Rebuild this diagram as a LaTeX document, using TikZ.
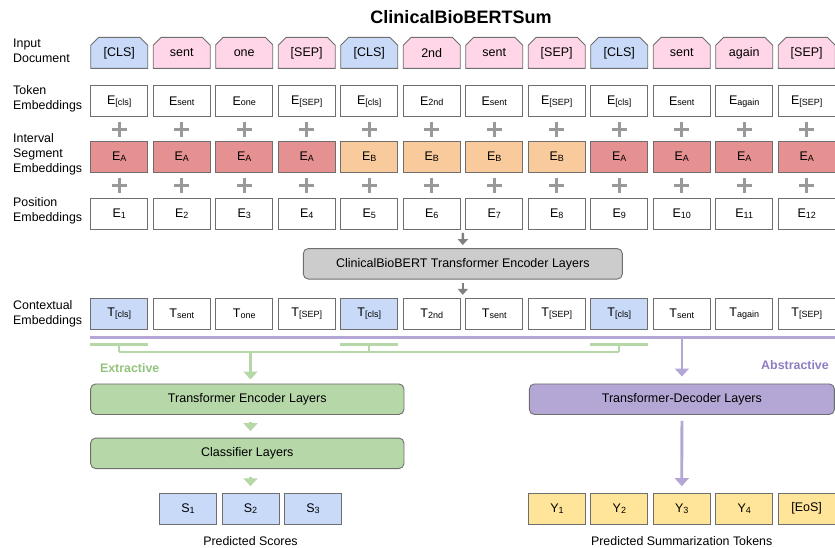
\documentclass[tikz,border=0pt]{standalone}
\usepackage{fontspec}
\setmainfont{Liberation Sans}
\usepackage{tikz}
\usetikzlibrary{arrows.meta,calc,shapes.misc}
\definecolor{BlueCls}{RGB}{201,218,248}
\definecolor{PinkTok}{RGB}{255,214,232}
\definecolor{RedSegA}{RGB}{230,145,145}
\definecolor{OrangeSegB}{RGB}{249,203,156}
\definecolor{GreenExt}{RGB}{182,215,168}
\definecolor{GreenExtText}{RGB}{147,196,125}
\definecolor{PurpleAbs}{RGB}{180,167,214}
\definecolor{PurpleAbsText}{RGB}{142,124,195}
\definecolor{YellowOut}{RGB}{255,229,153}
\definecolor{GrayBert}{RGB}{204,204,204}
\definecolor{GrayPlus}{RGB}{153,153,153}
\definecolor{GrayArrow}{RGB}{128,128,128}
\definecolor{BorderGray}{RGB}{110,110,110}
\newcommand{\tsub}[1]{\raisebox{-0.8pt}{\fontsize{9}{9}\selectfont #1}}

\begin{document}
\begin{tikzpicture}[x=1pt,y=-1pt,
  box/.style={draw=BorderGray,line width=0.9pt,minimum width=57pt,minimum height=31pt,
    inner sep=0pt,font=\fontsize{12.5}{14}\selectfont},
  tagbox/.style={box,chamfered rectangle,chamfered rectangle corners={north west,north east},
    chamfered rectangle xsep=4pt,chamfered rectangle ysep=4pt},
  layerbox/.style={draw=BorderGray,line width=0.9pt,rounded corners=5pt,minimum height=30.5pt,
    inner sep=0pt,font=\fontsize{12.5}{14}\selectfont},
  rowlabel/.style={anchor=west,align=left,inner sep=0pt,font=\fontsize{12.4}{15}\selectfont},
  caption/.style={inner sep=0pt,font=\fontsize{12.4}{15}\selectfont},
  plus/.style={GrayPlus,line width=2.6pt},
  grayarr/.style={-{Triangle[width=10pt,length=6pt]},GrayArrow,line width=2.4pt},
  greenline/.style={GreenExt,line width=2.3pt},
  greenarr/.style={greenline,-{Triangle[width=14pt,length=8pt]}},
  purpleline/.style={PurpleAbs,line width=2.8pt},
  purplearr/.style={purpleline,-{Triangle[width=14pt,length=8pt]}}]
  \useasboundingbox (0,0) rectangle (835,547);

  \node[font=\bfseries\fontsize{18}{20}\selectfont] (title) at (461,17) {ClinicalBioBERTSum};

  \node[rowlabel] (lblin) at (13,50.5) {Input\\Document};
  \node[rowlabel] (lbltok) at (13,99.2) {Token\\Embeddings};
  \node[rowlabel] (lblseg) at (13,154.7) {Interval\\Segment\\Embeddings};
  \node[rowlabel] (lblpos) at (13,210.5) {Position\\Embeddings};
  \node[rowlabel] (lblctx) at (13,314.2) {Contextual\\Embeddings};

  \foreach \tok/\sfx/\cin/\cout/\seg/\cseg [count=\i] in {
      {[CLS]}/{[cls]}/BlueCls/BlueCls/A/RedSegA,
      sent/sent/PinkTok/white/A/RedSegA,
      one/one/PinkTok/white/A/RedSegA,
      {[SEP]}/{[SEP]}/PinkTok/white/A/RedSegA,
      {[CLS]}/{[cls]}/BlueCls/BlueCls/B/OrangeSegB,
      2nd/2nd/PinkTok/white/B/OrangeSegB,
      sent/sent/PinkTok/white/B/OrangeSegB,
      {[SEP]}/{[SEP]}/PinkTok/white/B/OrangeSegB,
      {[CLS]}/{[cls]}/BlueCls/BlueCls/A/RedSegA,
      sent/sent/PinkTok/white/A/RedSegA,
      again/again/PinkTok/white/A/RedSegA,
      {[SEP]}/{[SEP]}/PinkTok/white/A/RedSegA} {
    \pgfmathsetmacro\cx{119.2+62.5*(\i-1)}
    \node[tagbox,fill=\cin] (in\i) at (\cx,52.8) {\tok};
    \node[box] (tok\i) at (\cx,101.3) {E\tsub{\sfx}};
    \node[box,fill=\cseg] (seg\i) at (\cx,157) {E\tsub{\seg}};
    \node[box] (pos\i) at (\cx,213.8) {E\tsub{\i}};
    \node[box,fill=\cout] (ctx\i) at (\cx,313.8) {T\tsub{\sfx}};
    \draw[plus] (\cx-7.5,129.4) -- (\cx+7.5,129.4) (\cx,121.9) -- (\cx,136.9);
    \draw[plus] (\cx-7.5,185.3) -- (\cx+7.5,185.3) (\cx,177.8) -- (\cx,192.8);
  }

  \node[layerbox,fill=GrayBert,minimum width=319pt] (bert) at (462.8,263.8)
    {ClinicalBioBERT Transformer Encoder Layers};
  \draw[grayarr] ($(pos6.south east)!0.5!(pos7.south west)$) ++(0,3) -- ([yshift=3pt]bert.north);
  \draw[grayarr] ([yshift=-3pt]bert.south) -- ([yshift=3pt]bert.south |- ctx6.north);

  \coordinate (abus) at ([yshift=-7.4pt]ctx1.south west);
  \draw[purpleline] (abus) -- (abus -| ctx12.south east);
  \foreach \i in {1,5,9}
    \draw[greenline] ([yshift=-14.7pt]ctx\i.south west) -- ([yshift=-14.7pt]ctx\i.south east)
      ([yshift=-14.7pt]ctx\i.south) -- ([yshift=-22.4pt]ctx\i.south);
  \coordinate (ebus) at ([yshift=-22.4pt]ctx1.south);
  \draw[greenline] (ebus) -- (ebus -| ctx9.south);

  \node[font=\bfseries\fontsize{12.4}{14}\selectfont,text=GreenExtText] (ext) at (129.7,368.3) {Extractive};
  \node[font=\bfseries\fontsize{12.4}{14}\selectfont,text=PurpleAbsText] (abs) at (795,365) {Abstractive};

  \node[layerbox,fill=GreenExt,minimum width=313.3pt] (enc) at (247.3,399.2) {Transformer Encoder Layers};
  \node[layerbox,fill=GreenExt,minimum width=313.3pt] (clf) at (247.3,453.3) {Classifier Layers};
  \node[layerbox,fill=PurpleAbs,minimum width=305pt] (dec) at (681.9,399.2) {Transformer-Decoder Layers};

  \foreach \i in {1,2,3}
    \node[box,fill=BlueCls] (s\i) at (188+62.5*\i-62.5,508.7) {S\tsub{\i}};
  \foreach \t [count=\i] in {Y\tsub{1},Y\tsub{2},Y\tsub{3},Y\tsub{4},{[EoS]}}
    \node[box,fill=YellowOut] (y\i) at (557+62.4*\i-62.4,508.7) {\t};

  \draw[greenarr] (ebus -| s2) -- ([yshift=4pt]enc.north -| s2);
  \draw[greenarr] ([yshift=-7pt]enc.south -| s2) -- ([yshift=6.5pt]clf.north -| s2);
  \draw[greenarr] ([yshift=-7.5pt]clf.south -| s2) -- ([yshift=6.5pt]s2.north);
  \draw[purplearr] (abus -| dec.north) -- ([yshift=7pt]dec.north);
  \draw[purplearr] ([yshift=-6pt]dec.south) -- ([yshift=6.6pt]y3.north);

  \node[caption] (scores) at (250.5,541) {Predicted Scores};
  \node[caption] (tokens) at (681.7,541) {Predicted Summarization Tokens};
\end{tikzpicture}
\end{document}
